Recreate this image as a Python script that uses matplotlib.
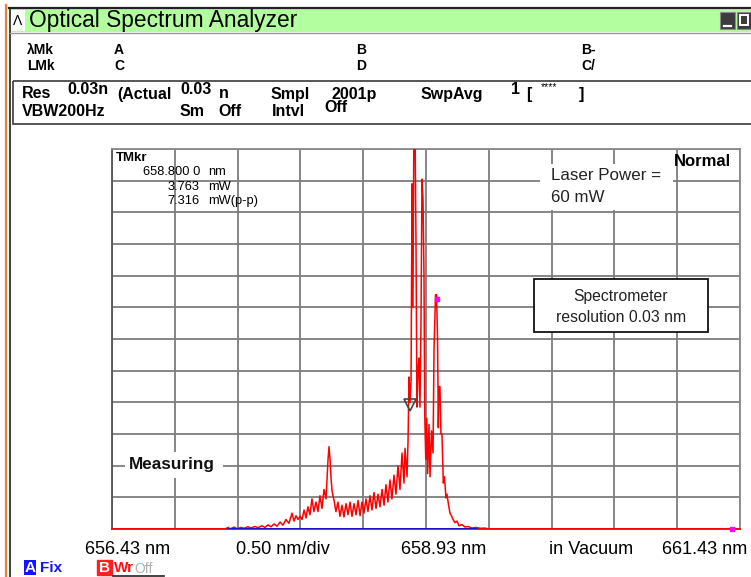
import matplotlib
matplotlib.use('Agg')
import matplotlib.pyplot as plt
import matplotlib.transforms as mtransforms
from matplotlib.patches import Rectangle
import numpy as np

# ---------------- data ----------------
wl_start, wl_stop = 656.43, 661.43      # nm, 0.50 nm/div
p_max = 12.0                            # mW full scale (12 div)

wavelength_nm = [
    656.430, 657.330, 657.354, 657.370, 657.401, 657.425, 657.457, 657.481, 657.513, 657.537,
    657.569, 657.592, 657.624, 657.648, 657.672, 657.696, 657.720, 657.744, 657.768, 657.791,
    657.815, 657.839, 657.863, 657.879, 657.895, 657.911, 657.927, 657.943, 657.959, 657.975,
    657.990, 658.006, 658.022, 658.038, 658.054, 658.070, 658.086, 658.102, 658.118, 658.134,
    658.150, 658.158, 658.166, 658.174, 658.182, 658.198, 658.213, 658.229, 658.245, 658.261,
    658.277, 658.293, 658.309, 658.325, 658.341, 658.357, 658.373, 658.389, 658.405, 658.420,
    658.436, 658.452, 658.468, 658.484, 658.500, 658.516, 658.532, 658.548, 658.564, 658.580,
    658.596, 658.611, 658.627, 658.643, 658.659, 658.675, 658.691, 658.707, 658.723, 658.739,
    658.755, 658.763, 658.779, 658.787, 658.795, 658.803, 658.811, 658.819, 658.826, 658.834,
    658.842, 658.850, 658.858, 658.866, 658.874, 658.882, 658.890, 658.898, 658.906, 658.914,
    658.920, 658.928, 658.936, 658.943, 658.954, 658.962, 658.974, 658.986, 658.994, 659.006,
    659.014, 659.022, 659.028, 659.034, 659.041, 659.049, 659.057, 659.068, 659.077, 659.089,
    659.097, 659.108, 659.121, 659.135, 659.145, 659.161, 659.177, 659.193, 659.217, 659.241,
    659.264, 659.296, 659.328, 659.360, 659.400, 659.424, 661.430,
]
power_mW = [
    0.00, 0.00, 0.05, 0.00, 0.06, 0.01, 0.05, 0.02, 0.07, 0.03,
    0.08, 0.04, 0.10, 0.05, 0.13, 0.07, 0.16, 0.09, 0.22, 0.12,
    0.30, 0.18, 0.50, 0.25, 0.42, 0.30, 0.40, 0.30, 0.60, 0.35,
    0.70, 0.45, 0.95, 0.55, 0.85, 0.55, 1.05, 0.65, 1.25, 0.95,
    2.20, 2.60, 2.20, 1.60, 1.20, 0.90, 0.55, 0.85, 0.40, 0.75,
    0.38, 0.80, 0.45, 0.85, 0.40, 0.80, 0.45, 0.90, 0.42, 0.85,
    0.50, 0.95, 0.55, 1.05, 0.60, 1.15, 0.65, 1.10, 0.70, 1.25,
    0.75, 1.40, 0.85, 1.55, 0.95, 1.70, 1.10, 2.00, 1.25, 2.40,
    1.45, 2.55, 1.65, 2.80, 4.80, 4.00, 4.70, 10.90, 7.00, 13.00,
    13.00, 9.20, 3.85, 5.00, 5.40, 3.85, 6.50, 11.05, 10.45, 8.00,
    3.60, 2.20, 3.50, 1.75, 3.30, 1.65, 3.10, 2.40, 5.70, 7.40,
    7.40, 6.00, 3.20, 4.50, 4.50, 3.00, 3.00, 1.45, 1.65, 0.98,
    1.10, 0.80, 0.50, 0.40, 0.30, 0.20, 0.25, 0.10, 0.14, 0.06,
    0.08, 0.03, 0.05, 0.02, 0.03, 0.00, 0.00,
]
assert len(wavelength_nm) == len(power_mW)

trace_b_span_nm = [657.35, 659.34]      # trace B (blue) baseline
aux_marker_nm = [659.017, 661.367]      # magenta markers
aux_marker_mW = [7.26, 0.0]
tmkr_nm, tmkr_mW, tmkr_pp = 658.800, 3.763, 7.316

bottom_labels = ["656.43 nm", "0.50 nm/div", "658.93 nm", "in Vacuum", "661.43 nm"]

# ---------------- figure ----------------
W, H = 751, 577
fig = plt.figure(figsize=(W / 100, H / 100), dpi=100)
fig.patch.set_facecolor('white')
FONT = ['Liberation Sans', 'DejaVu Sans']
plt.rcParams['font.family'] = FONT

L, R, T, B = 112, 740, 149, 529
ax = fig.add_axes([L / W, 1 - B / H, (R - L) / W, (B - T) / H], zorder=1)
ax.set_xlim(wl_start, wl_stop)
ax.set_ylim(0, p_max)
ax.set_xticks(np.linspace(wl_start, wl_stop, 11))
ax.set_yticks(np.arange(0, p_max + 1, 1))
ax.grid(True, color='#7d7d7d', lw=1.3)
ax.set_axisbelow(True)
ax.tick_params(length=0, labelbottom=False, labelleft=False)
ax.spines['top'].set_color('#8a8a8a')
ax.spines['right'].set_color('#8a8a8a')
ax.spines['left'].set_color('#555555')
ax.spines['bottom'].set_color('#ff0000')
for s in ax.spines.values():
    s.set_linewidth(1.3)

ax.plot(wavelength_nm, power_mW, color='#ff0000', lw=1.1, zorder=3)
ax.plot(trace_b_span_nm, [0, 0], color='#1010e0', lw=1.3, zorder=4)
ax.plot(aux_marker_nm, aux_marker_mW, ls='none', marker='s', ms=3,
        color='#ff00ff', zorder=5, clip_on=False)
tr = mtransforms.offset_copy(ax.transData, fig=fig, x=0, y=5, units='dots')
ax.plot([tmkr_nm], [tmkr_mW], transform=tr, marker='v', ms=9, mfc='none',
        mec='#444444', mew=1.2, ls='none', zorder=6)

# ---------------- overlay in pixel coords ----------------
ov = fig.add_axes([0, 0, 1, 1], zorder=5)
ov.set_xlim(0, W)
ov.set_ylim(H, 0)
ov.axis('off')
ov.patch.set_alpha(0)

# window borders
ov.plot([6, 6], [5, H], color='#e8803a', lw=1.6)
ov.plot([9.5, 9.5], [8, H], color='#333333', lw=1.3)
ov.add_patch(Rectangle((10, 9), W - 10, 23, fc='#b3ff9f', ec='none'))
ov.plot([9, W], [8.2, 8.2], color='#222222', lw=1.6)
ov.plot([10, W], [33, 33], color='#9a9a9a', lw=1.0)
ov.add_patch(Rectangle((10, 10), 15, 21, fc='white', ec='none'))
ov.text(17.5, 21, 'Λ', fontsize=10, ha='center', va='center', color='black')
ov.text(29, 21, 'Optical Spectrum Analyzer', fontsize=16.4, ha='left', va='center', color='black')
# window buttons
ov.add_patch(Rectangle((720, 12), 15, 17, fc='#3c3c3c', ec='#888888', lw=0.8))
ov.add_patch(Rectangle((737, 12), 14, 17, fc='#3c3c3c', ec='#888888', lw=0.8))
ov.plot([724, 731], [25.5, 25.5], color='white', lw=1.6)
ov.add_patch(Rectangle((740, 15), 8, 10, fc='none', ec='white', lw=1.4))

# marker header
hdr = dict(fontsize=10, fontweight='bold', va='center', ha='left', color='black')
ov.text(27, 50, 'λMk', **hdr)
ov.text(27, 66, 'LMk', **hdr)
ov.text(114, 50, 'A', **hdr)
ov.text(114, 66, 'C', **hdr)
ov.text(356, 50, 'B', **hdr)
ov.text(356, 66, 'D', **hdr)
ov.text(581, 50, 'B-', **hdr)
ov.text(581, 66, 'C/', **hdr)

# parameter box
ov.add_patch(Rectangle((13, 81), W, 43, fc='none', ec='#3a3a3a', lw=1.2))
pr = dict(fontsize=11.5, fontweight='bold', va='center', ha='left', color='black')
ov.text(22, 94, 'Res', **pr)
ov.text(67, 89, '0.03n', **pr)
ov.text(117, 94, '(Actual', **pr)
ov.text(180, 89, '0.03', **pr)
ov.text(219, 94, 'n', **pr)
ov.text(271, 94, 'Smpl', **pr)
ov.text(332, 94, '2001p', **pr)
ov.text(421, 94, 'SwpAvg', **pr)
ov.text(511, 90, '1', **pr)
ov.text(526, 94, '[', **pr)
ov.text(541, 87, '****', fontsize=7.5, va='center', ha='left', color='black')
ov.text(579, 94, ']', **pr)
ov.text(22, 111, 'VBW200Hz', **pr)
ov.text(180, 112, 'Sm', **pr)
ov.text(218, 112, 'Off', **pr)
ov.text(272, 112, 'Intvl', **pr)
ov.text(324, 107, 'Off', **pr)

# marker readout inside plot
ov.text(116, 158, 'TMkr', fontsize=9.5, fontweight='bold', va='center', ha='left')
mk = dict(fontsize=9.3, va='center')
ov.text(200, 172, f'{tmkr_nm:.3f} 0', ha='right', **mk)
ov.text(208, 172, 'nm', ha='left', **mk)
ov.text(200, 187, f'{tmkr_mW:.3f}', ha='right', **mk)
ov.text(208, 187, 'mW', ha='left', **mk)
ov.text(200, 201, f'{tmkr_pp:.3f}', ha='right', **mk)
ov.text(208, 201, 'mW(p-p)', ha='left', **mk)

ov.text(731, 161, 'Normal', fontsize=12, fontweight='bold', ha='right', va='center')
ov.add_patch(Rectangle((540, 164), 133, 46, fc='white', ec='none'))
ov.text(551, 176, 'Laser Power =', fontsize=12.2, ha='left', va='center', color='#222222')
ov.text(551, 197, '60 mW', fontsize=12.2, ha='left', va='center', color='#222222')

ov.add_patch(Rectangle((534, 279), 174, 53, fc='white', ec='#111111', lw=1.3))
ov.text(621, 297, 'Spectrometer', fontsize=11.3, ha='center', va='center', color='#222222')
ov.text(621, 317, 'resolution 0.03 nm', fontsize=11.3, ha='center', va='center', color='#222222')

ov.add_patch(Rectangle((125, 452), 98, 26, fc='white', ec='none'))
ov.text(129, 464, 'Measuring', fontsize=12.3, fontweight='bold', ha='left', va='center', color='#111111')

# bottom scale labels
bx = [85, 236, 401, 549, 662]
for x, s in zip(bx, bottom_labels):
    ov.text(x, 549, s, fontsize=13.1, ha='left', va='center', color='black')

# trace status
ov.add_patch(Rectangle((24, 560), 12, 15, fc='#1414ff', ec='none'))
ov.text(30, 567.5, 'A', fontsize=11, fontweight='bold', color='white', ha='center', va='center')
ov.text(40, 568, 'Fix', fontsize=11, fontweight='bold', color='#1414ff', ha='left', va='center')
ov.add_patch(Rectangle((97, 560), 15, 15, fc='#ff2020', ec='#ff2020'))
ov.text(104.5, 567.5, 'B', fontsize=11, fontweight='bold', color='white', ha='center', va='center')
ov.text(114, 568, 'Wr', fontsize=11, fontweight='bold', color='#ff1010', ha='left', va='center')
ov.text(134, 569, 'Off', fontsize=10, color='#b0b0b0', ha='left', va='center')
ov.plot([113, 164], [576, 576], color='#222222', lw=1.2)

fig.savefig('out.png', dpi=100, facecolor='white')
